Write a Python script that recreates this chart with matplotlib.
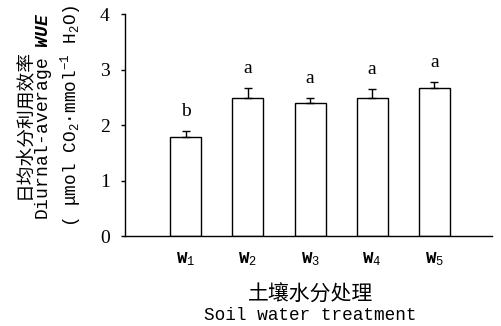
import numpy as np
import matplotlib
matplotlib.use("Agg")
import matplotlib.pyplot as plt

plt.rcParams['mathtext.fontset'] = 'custom'
plt.rcParams['mathtext.rm'] = 'Liberation Mono'
plt.rcParams['mathtext.it'] = 'Liberation Mono:italic:bold'
plt.rcParams['mathtext.bf'] = 'Liberation Mono:bold'

treatments = [r'W$_1$', r'W$_2$', r'W$_3$', r'W$_4$', r'W$_5$']
wue = [1.79, 2.49, 2.39, 2.49, 2.67]
err = [0.10, 0.17, 0.10, 0.16, 0.10]
letters = ['b', 'a', 'a', 'a', 'a']

fig = plt.figure(figsize=(5.01, 3.26), dpi=100)
ax = fig.add_axes([0.2495, 0.276, 0.7325, 0.681])

x = np.arange(len(wue))
ax.bar(x, wue, width=0.5, color='white', edgecolor='black', linewidth=1.0,
       yerr=[np.zeros(len(err)), err],
       error_kw=dict(ecolor='black', elinewidth=1.0, capsize=3, capthick=1.0))

for xi, v, e, lab in zip(x, wue, err, letters):
    ax.annotate(lab, (xi, v + e), xytext=(0, 8), textcoords='offset points',
                ha='center', va='bottom', fontsize=14, family='Liberation Serif')

ax.set_xlim(-0.98, 4.93)
ax.set_ylim(0, 4)
ax.set_yticks([0, 1, 2, 3, 4])
ax.set_xticks(x)
ax.set_xticklabels(treatments, fontsize=12.5, family='Liberation Mono',
                   fontweight='bold')
for t in ax.get_yticklabels():
    t.set_family('Liberation Serif')
    t.set_fontsize(14)
ax.tick_params(axis='y', length=3, width=1, pad=8)
ax.tick_params(axis='x', length=0, pad=10)
ax.spines['top'].set_visible(False)
ax.spines['right'].set_visible(False)
for s in ['left', 'bottom']:
    ax.spines[s].set_linewidth(1.0)

# x axis title
fig.text(0.619, 1 - 295 / 326, '土壤水分处理', ha='center', va='center',
         fontsize=15, family='Noto Sans CJK SC')
fig.text(0.62, 1 - 315 / 326, 'Soil water treatment', ha='center', va='center',
         fontsize=12.8, family='Liberation Mono')

# y axis title
fig.text(24 / 501, 1 - 124 / 326, '日均水分利用效率', rotation=90, ha='center',
         va='center', fontsize=13.5, family='Noto Sans CJK SC')
fig.text(44 / 501, 1 - 116 / 326, r'Diurnal-average $\it{WUE}$', rotation=90,
         ha='center', va='center', fontsize=13, family='Liberation Mono')
fig.text(71 / 501, 1 - 116 / 326,
         r'( μmol CO$_2$·mmol$^{-1}$ H$_2$O)', rotation=90,
         ha='center', va='center', fontsize=12.8, family=['Liberation Mono', 'DejaVu Sans'])

fig.savefig('out.png', dpi=100)
